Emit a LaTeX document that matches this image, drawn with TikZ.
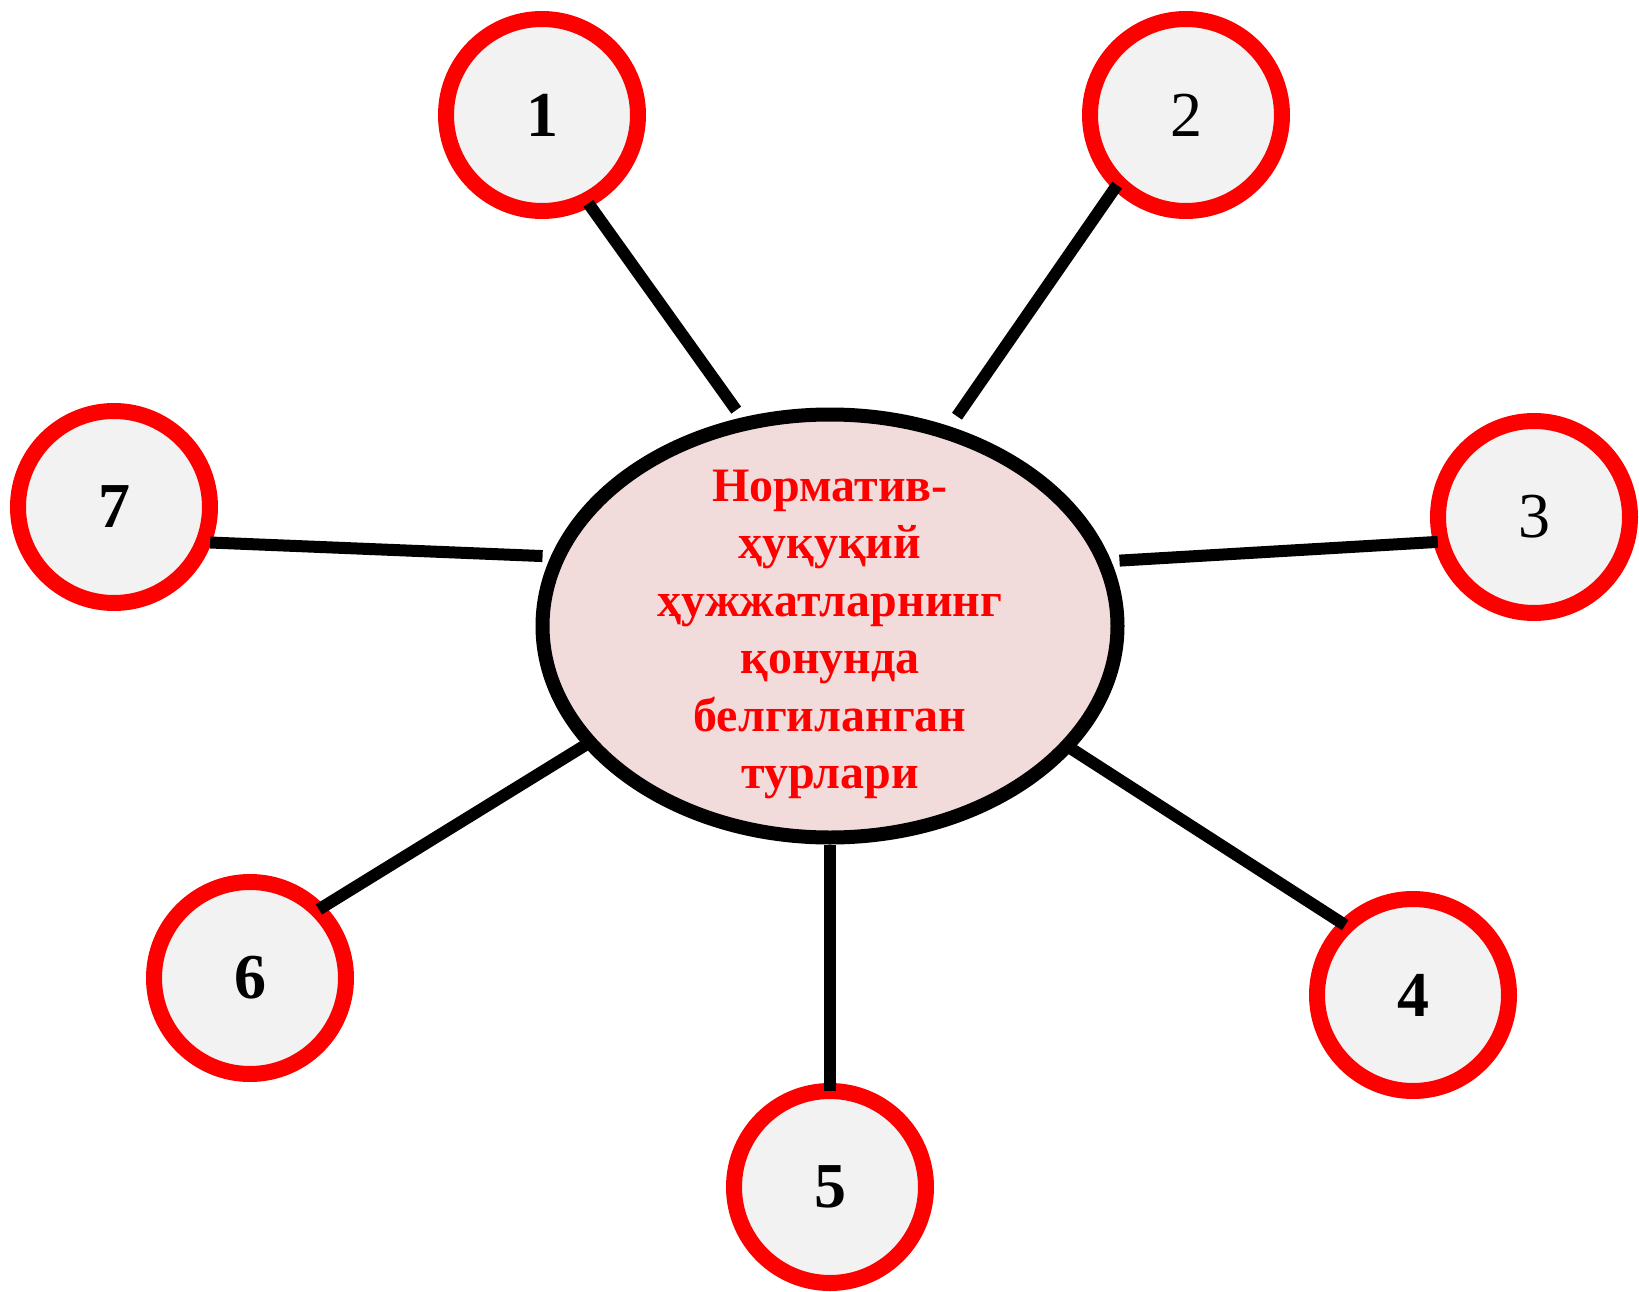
\documentclass[tikz,border=0pt]{standalone}
\usepackage{fontspec}
\setmainfont{Liberation Serif}
\usetikzlibrary{shapes.geometric}
\definecolor{ellfill}{HTML}{F2DCDB}
\definecolor{circfill}{HTML}{F2F2F2}
\definecolor{ringred}{HTML}{FF0000}
\tikzset{
  centreell/.style={ellipse, draw=black, line width=14pt, fill=ellfill,
    minimum width=575pt, minimum height=423pt, inner sep=0pt},
  centretext/.style={align=center, text=ringred, inner sep=0pt,
    font=\fontsize{48}{57.5}\selectfont\bfseries},
  numcirc/.style={circle, draw=ringred, line width=16pt, fill=circfill,
    minimum size=192pt, inner sep=0pt, font=\fontsize{64}{70}\selectfont},
  numbold/.style={numcirc, font=\fontsize{64}{70}\selectfont\bfseries},
  link/.style={draw=black, line width=12pt}
}
\begin{document}
\begin{tikzpicture}[x=1pt,y=-1pt]
\useasboundingbox (0,0) rectangle (1639,1292);
\node[centreell] (E) at (830,626) {};
\node[centretext] (T) at (830,634.5) {Норматив-\\ҳуқуқий\\ҳужжатларнинг\\қонунда\\белгиланган\\турлари};
\node[numbold] (c1) at (542,115) {1};
\node[numcirc] (c2) at (1186,115) {2};
\node[numcirc] (c3) at (1534,517) {3};
\node[numbold] (c4) at (1413,995) {4};
\node[numbold] (c5) at (830,1187) {5};
\node[numbold] (c6) at (250,978) {6};
\node[numbold] (c7) at (114,507) {7};
\draw[link, shorten <=-4.3pt, shorten >=9.2pt] (c1.-62.8) -- (E.113.0);
\draw[link, shorten <=-5.8pt, shorten >=12.4pt] (c2.-134.1) -- (E.59.8);
\draw[link, shorten <=-4.7pt, shorten >=8.3pt] (c3.194.1) -- (E.13.5);
\draw[link, shorten <=-6.8pt, shorten >=-4.2pt] (c4.135.7) -- (E.-27.3);
\draw[link, shorten <=-8pt] (c5.90) -- (E.-90);
\draw[link, shorten <=-7pt, shorten >=-3.1pt] (c6.44.3) -- (E.206.4);
\draw[link, shorten <=-1.6pt, shorten >=8.3pt] (c7.-20.0) -- (E.166.5);
\end{tikzpicture}
\end{document}
